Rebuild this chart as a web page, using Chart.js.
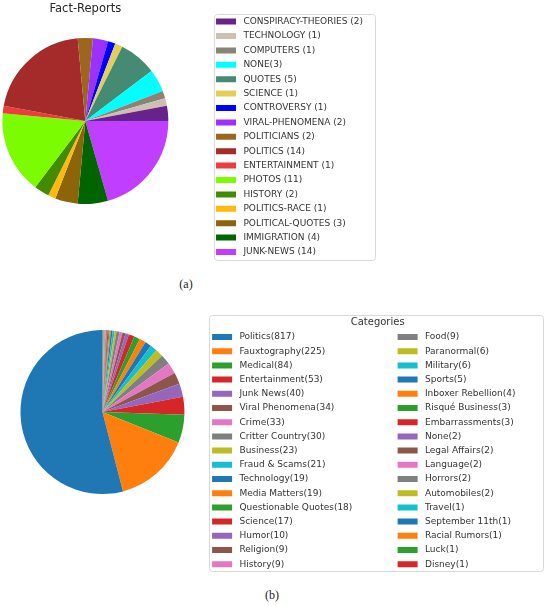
<!DOCTYPE html>
<html>
<head>
<meta charset="utf-8">
<script src="https://cdn.jsdelivr.net/npm/chart.js@4/dist/chart.umd.min.js"></script>
<style>
body { margin: 0; background: #fff; width: 550px; height: 606px; position: relative; overflow: hidden; }
canvas { position: absolute; }
#factChart { top: 0; left: -40px; }
#snopesChart { top: 300px; left: -2px; }
.caption { position: absolute; font-family: 'Liberation Serif', serif; font-size: 12px; color: #222; transform: translateX(-50%); }
</style>
</head>
<body>
<canvas id="factChart" width="416" height="274"></canvas>
<canvas id="snopesChart" width="552" height="282"></canvas>
<div class="caption" style="left:186px; top:277px">(a)</div>
<div class="caption" style="left:272px; top:588px">(b)</div>
<script>
// (a) Fact-Reports
var factNames = ['CONSPIRACY-THEORIES', 'TECHNOLOGY', 'COMPUTERS', 'NONE', 'QUOTES', 'SCIENCE',
  'CONTROVERSY', 'VIRAL-PHENOMENA', 'POLITICIANS', 'POLITICS', 'ENTERTAINMENT', 'PHOTOS',
  'HISTORY', 'POLITICS-RACE', 'POLITICAL-QUOTES', 'IMMIGRATION', 'JUNK-NEWS'];
var factCounts = [2, 1, 1, 3, 5, 1, 1, 2, 2, 14, 1, 11, 2, 1, 3, 4, 14];
var factColors = ['#68228b', '#cdc0b0', '#8b8378', '#00ffff', '#458b74', '#e3cf57',
  '#0000ff', '#9b30ff', '#9c661f', '#a52a2a', '#ee3b3b', '#7cfc00',
  '#458b00', '#ffb90f', '#8b6508', '#006400', '#bf3eff'];

// (b) Categories
var snopesNames = ['Politics', 'Fauxtography', 'Medical', 'Entertainment', 'Junk News', 'Viral Phenomena',
  'Crime', 'Critter Country', 'Business', 'Fraud & Scams', 'Technology', 'Media Matters',
  'Questionable Quotes', 'Science', 'Humor', 'Religion', 'History',
  'Food', 'Paranormal', 'Military', 'Sports', 'Inboxer Rebellion', 'Risqué Business',
  'Embarrassments', 'None', 'Legal Affairs', 'Language', 'Horrors', 'Automobiles',
  'Travel', 'September 11th', 'Racial Rumors', 'Luck', 'Disney'];
var snopesCounts = [817, 225, 84, 53, 40, 34, 33, 30, 23, 21, 19, 19, 18, 17, 10, 9, 9,
  9, 6, 6, 5, 4, 3, 3, 2, 2, 2, 2, 2, 1, 1, 1, 1, 1];
var tab10 = ['#1f77b4', '#ff7f0e', '#2ca02c', '#d62728', '#9467bd',
  '#8c564b', '#e377c2', '#7f7f7f', '#bcbd22', '#17becf'];

var factLabels = factNames.map(function (n, i) {
  return n + (n === 'NONE' ? '' : ' ') + '(' + factCounts[i] + ')';
});
var snopesLabels = snopesNames.map(function (n, i) { return n + '(' + snopesCounts[i] + ')'; });
var snopesColors = snopesNames.map(function (n, i) { return tab10[i % 10]; });

function rev(a) { return a.slice().reverse(); }

// legend text: leading space, trailing spaces widen the columns
function legendText(n, split, padA, padB) {
  return function (chart) {
    var items = Chart.overrides.doughnut.plugins.legend.labels.generateLabels(chart);
    items.forEach(function (it) {
      var orig = n - 1 - it.index;
      it.text = ' ' + it.text + (orig < split ? padA : padB);
    });
    return items;
  };
}

var legendFrame = {
  id: 'legendFrame',
  afterDraw: function (chart, args, o) {
    var hb = chart.legend.legendHitBoxes;
    var l = Infinity, t = Infinity, r = -Infinity, b = -Infinity;
    hb.forEach(function (h) {
      l = Math.min(l, h.left); t = Math.min(t, h.top);
      r = Math.max(r, h.left + h.width); b = Math.max(b, h.top + h.height);
    });
    var ctx = chart.ctx;
    ctx.save();
    ctx.strokeStyle = '#d9d9d9';
    ctx.lineWidth = 1;
    ctx.beginPath();
    ctx.roundRect(Math.round(l + o.l) + 0.5, Math.round(t + o.t) + 0.5,
      Math.round(r + o.r - l - o.l), Math.round(b + o.b - t - o.t), 3);
    ctx.stroke();
    ctx.restore();
  }
};

var labelFont = { family: 'DejaVu Sans', size: 9 };

new Chart(document.getElementById('factChart'), {
  type: 'pie',
  data: {
    labels: rev(factLabels),
    datasets: [{
      data: rev(factCounts),
      backgroundColor: rev(factColors),
      borderWidth: 0,
      radius: 83
    }]
  },
  options: {
    responsive: false,
    animation: false,
    events: [],
    rotation: 90,
    layout: { padding: { left: 0, right: 2.9, top: 2, bottom: 2.4 } },
    plugins: {
      tooltip: { enabled: false },
      title: {
        display: true, text: 'Fact-Reports', position: 'top', fullSize: false,
        color: '#262626', font: { family: 'DejaVu Sans', size: 11.5, weight: 'normal' }, padding: 0
      },
      subtitle: {
        display: true, text: '', position: 'bottom', fullSize: false,
        font: { size: 10, lineHeight: 1 }, padding: { top: 35.4, bottom: 0 }
      },
      legend: {
        position: 'right',
        align: 'center',
        reverse: true,
        maxWidth: 300,
        labels: {
          font: labelFont, color: '#333', boxWidth: 20, boxHeight: 6, padding: 5.4,
          generateLabels: legendText(factNames.length, 99, '', '')
        }
      },
      legendFrame: { l: -2, t: -3, r: 12, b: 3.5 }
    }
  },
  plugins: [legendFrame]
});

new Chart(document.getElementById('snopesChart'), {
  type: 'pie',
  data: {
    labels: rev(snopesLabels),
    datasets: [{
      data: rev(snopesCounts),
      backgroundColor: rev(snopesColors),
      borderWidth: 0,
      radius: 82
    }]
  },
  options: {
    responsive: false,
    animation: false,
    events: [],
    rotation: 0,
    layout: { padding: { left: 0, right: 1.6, top: 9.3, bottom: 2.7 } },
    plugins: {
      tooltip: { enabled: false },
      title: {
        display: true, text: '', position: 'bottom', fullSize: false,
        font: { size: 10, lineHeight: 1 }, padding: { top: 54.6, bottom: 0 }
      },
      legend: {
        position: 'right',
        align: 'start',
        reverse: true,
        maxWidth: 420,
        title: {
          display: true, text: 'Categories', color: '#333',
          font: { family: 'DejaVu Sans', size: 10, lineHeight: 1 }, padding: { top: 8, bottom: 0 }
        },
        labels: {
          font: labelFont, color: '#333', boxWidth: 20, boxHeight: 6, padding: 5.2,
          generateLabels: legendText(snopesNames.length, 17, '              ', '        ')
        }
      },
      legendFrame: { l: -3, t: -17.5, r: 5, b: 2.5 }
    }
  },
  plugins: [legendFrame]
});
</script>
</body>
</html>
